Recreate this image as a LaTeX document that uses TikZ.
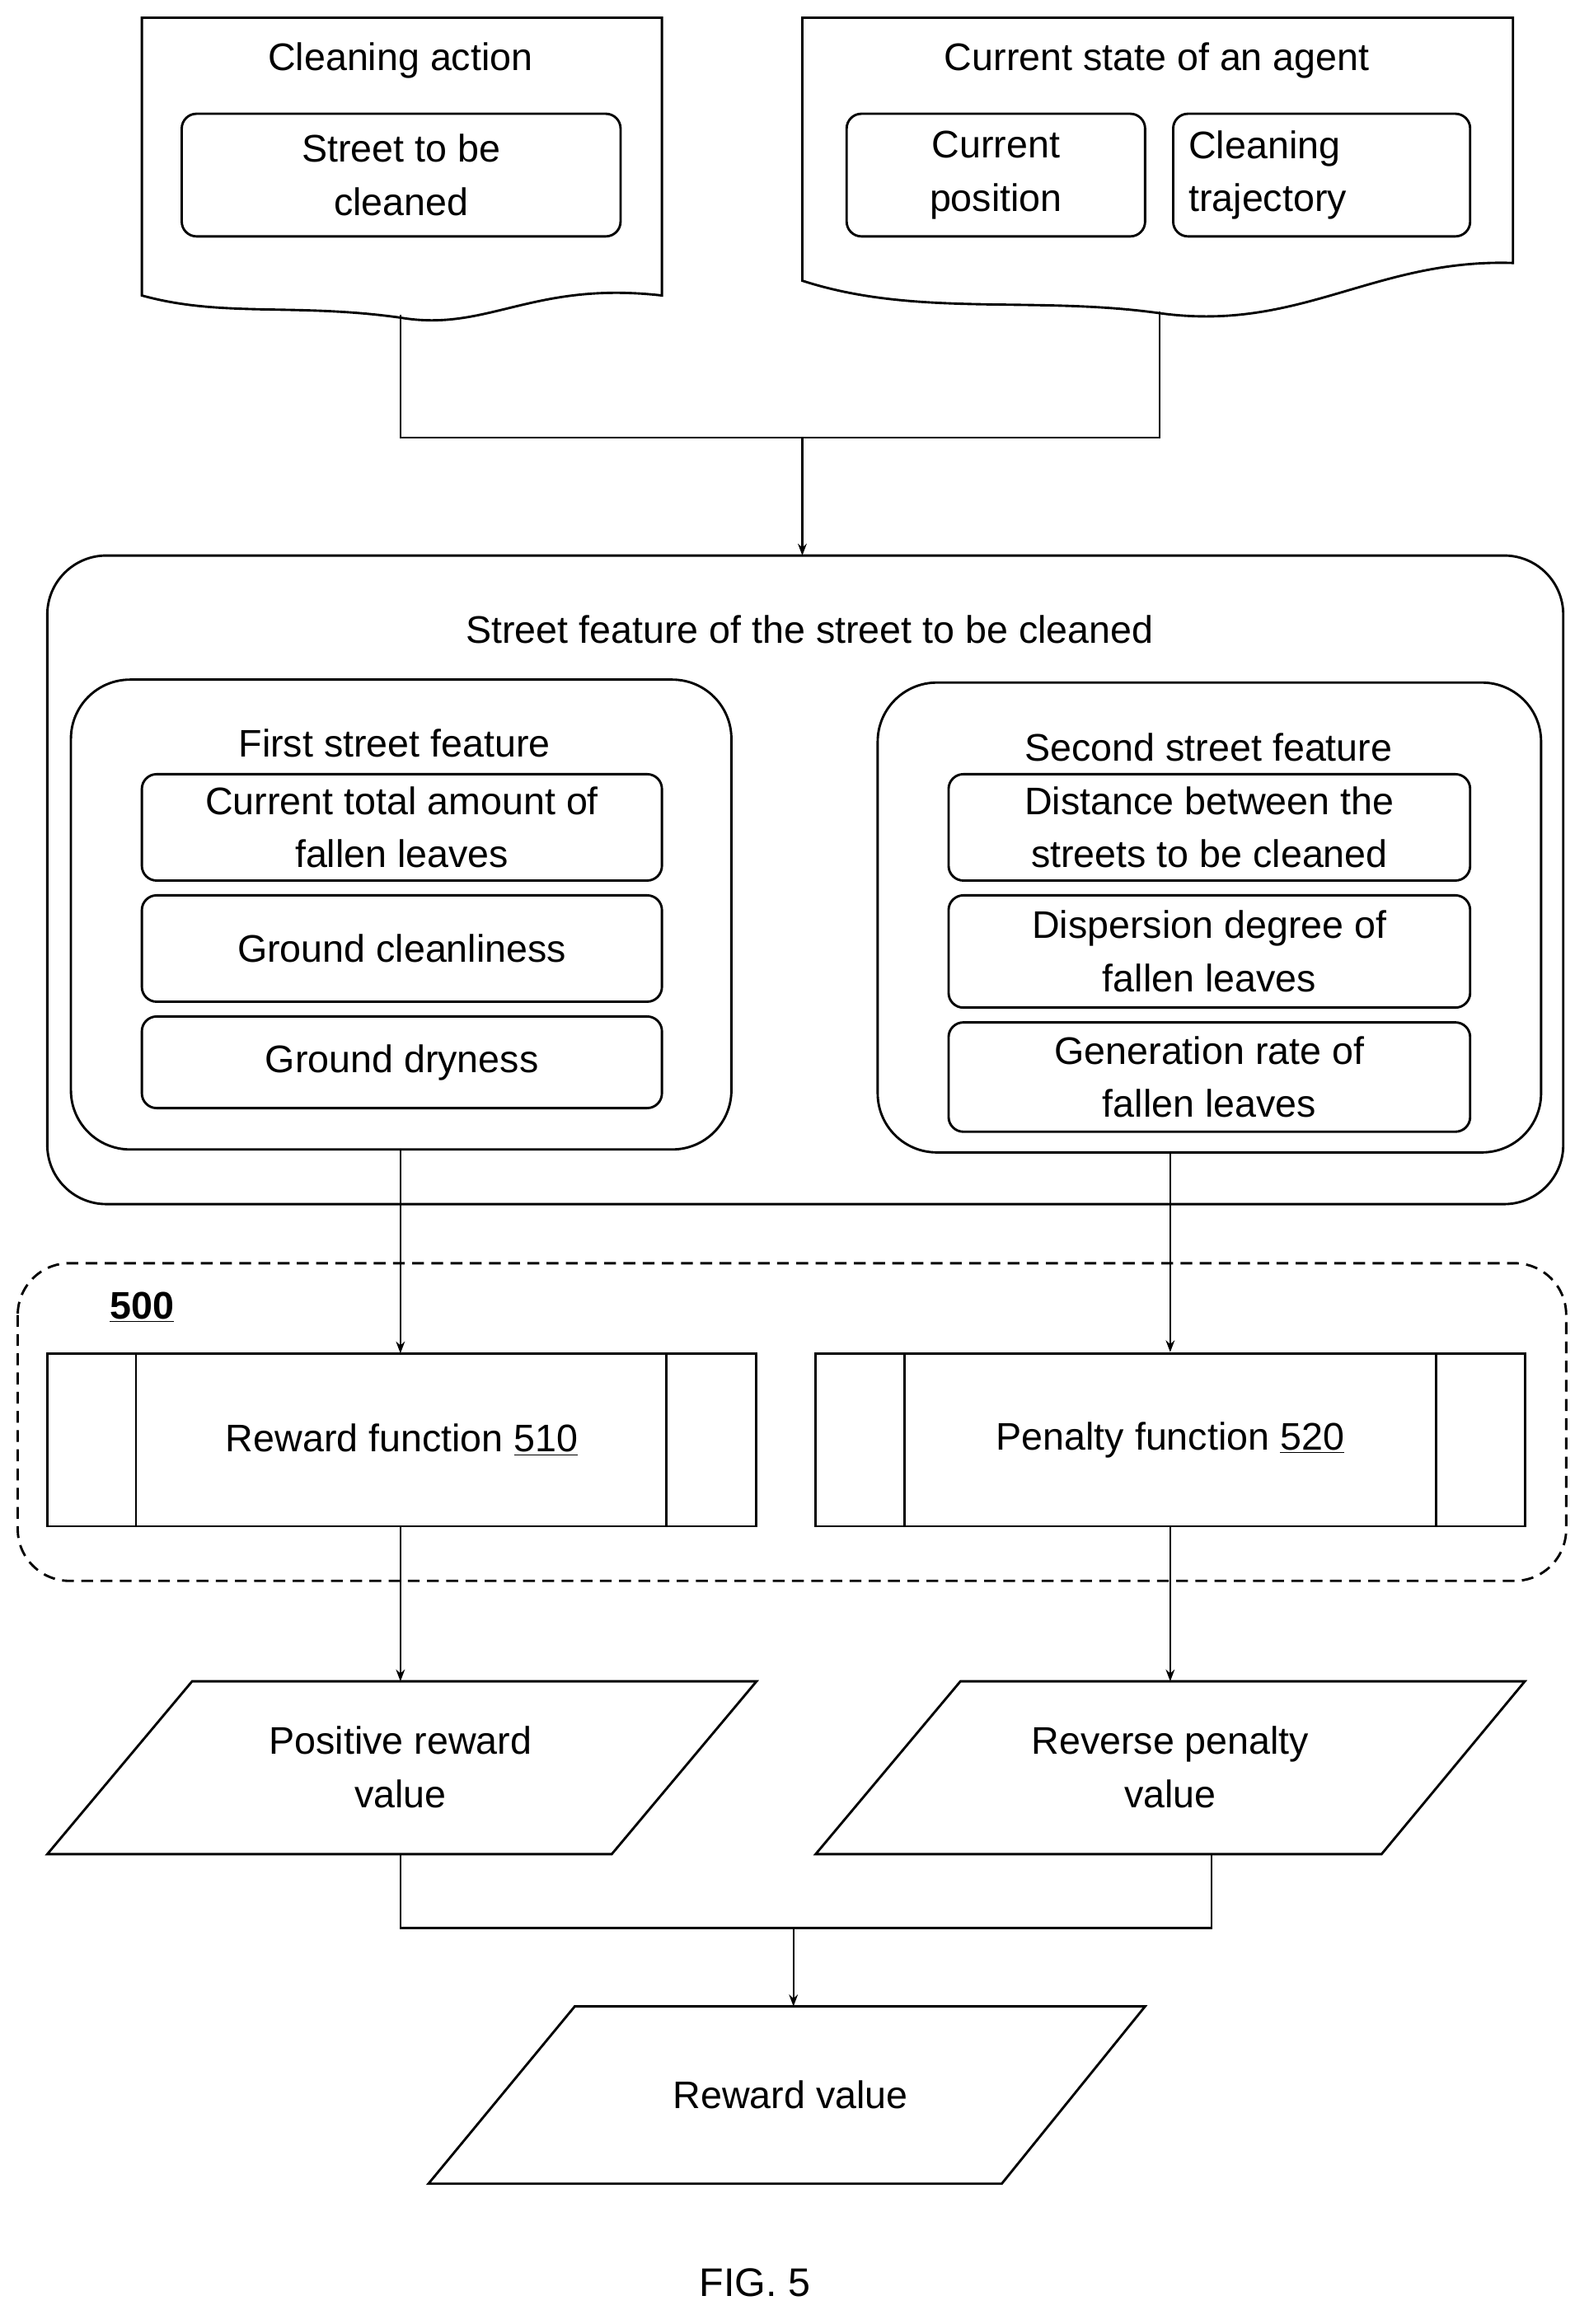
\documentclass[tikz,border=0pt]{standalone}
\usepackage{fontspec}
\setmainfont{Liberation Sans}
\usetikzlibrary{arrows.meta}
\begin{document}
\begin{tikzpicture}[x=1pt,y=-1pt,
  every node/.style={font=\fontsize{26}{36}\selectfont,align=center,inner sep=0pt},
  box/.style={draw,line width=1.6pt,rounded corners=10pt},
  big/.style={draw,line width=1.6pt,rounded corners=40pt},
  ln/.style={draw,line width=1.2pt},
  arr/.style={ln,-{Stealth[length=8pt,width=6pt]}}]
\useasboundingbox (0,0) rectangle (1075,1573);
% documents
\draw[line width=1.6pt] (96,12) -- (448,12) -- (448,200) .. controls (360,190) and (330,225) .. (271,215) .. controls (200,205) and (150,215) .. (96,200) -- cycle;
\node (ca) at (271,41) {Cleaning action};
\node[box,minimum width=297,minimum height=83] (st) at (271.5,118.5) {Street to be\\cleaned};
\draw[line width=1.6pt] (543,12) -- (1024,12) -- (1024,178) .. controls (930,175) and (880,225) .. (785,212) .. controls (700,200) and (620,215) .. (543,190) -- cycle;
\node (cs) at (783,41) {Current state of an agent};
\node[box,minimum width=202,minimum height=83] (cp) at (674,118.5) {Current\\position};
\node[box,minimum width=201,minimum height=83,align=left,text width=180] (ct) at (894.5,118.5) {Cleaning\\trajectory};
\coordinate (d1) at (271,213);
\coordinate (d2) at (785,211);
\coordinate (m) at (543,296);
\draw[ln] (d1) |- (m) -| (d2);
% big box
\node[big,minimum width=1026,minimum height=439] (sf) at (545,595.5) {};
\coordinate (sft) at (543,376);
\node at (548,426) {Street feature of the street to be cleaned};
\draw[arr] (m) -- (sft);
\node[big,minimum width=447,minimum height=318] (f1) at (271.5,619) {};
\node at (267,503) {First street feature};
\node[box,minimum width=352,minimum height=72] at (272,560) {Current total amount of\\fallen leaves};
\node[box,minimum width=352,minimum height=72] at (272,642) {Ground cleanliness};
\node[box,minimum width=352,minimum height=62] at (272,719) {Ground dryness};
\node[big,minimum width=449,minimum height=318] (f2) at (818.5,621) {};
\node at (818,506) {Second street feature};
\node[box,minimum width=353,minimum height=72] at (818.5,560) {Distance between the\\streets to be cleaned};
\node[box,minimum width=353,minimum height=76] at (818.5,644) {Dispersion degree of\\fallen leaves};
\node[box,minimum width=353,minimum height=74] at (818.5,729) {Generation rate of\\fallen leaves};
% dashed
\draw[line width=1.6pt,dash pattern=on 8pt off 5pt,rounded corners=35pt] (12,855) rectangle (1060,1070);
\node[font=\fontsize{26}{30}\selectfont\bfseries] at (96,885) {\underline{500}};
\node[draw,line width=1.6pt,minimum width=480,minimum height=117] (r) at (272,974.5) {Reward function \underline{510}};
\draw[line width=1.6pt] (92,916) -- (92,1033) (451,916) -- (451,1033);
\node[draw,line width=1.6pt,minimum width=480,minimum height=117] (p) at (792,974.5) {Penalty function \underline{520}};
\draw[line width=1.6pt] (612,916) -- (612,1033) (972,916) -- (972,1033);
\coordinate (rt) at (271,916);
\coordinate (rb) at (271,1033);
\draw[arr] (271,778) -- (rt);
\draw[arr] (792,780) -- (p.north);
% outputs
\draw[line width=1.6pt] (130,1138) -- (512,1138) -- (414,1255) -- (32,1255) -- cycle;
\node (pr) at (271,1196) {Positive reward\\value};
\draw[line width=1.6pt] (650,1138) -- (1032,1138) -- (935,1255) -- (552,1255) -- cycle;
\node (rp) at (792,1196) {Reverse penalty\\value};
\draw[arr] (rb) -- (271,1138);
\draw[arr] (p.south) -- (792,1138);
\coordinate (m2) at (537,1305);
\draw[ln] (271,1255) |- (m2) -| (820,1255);
\draw[line width=1.6pt] (389,1358) -- (775,1358) -- (678,1478) -- (290,1478) -- cycle;
\node (rv) at (535,1418) {Reward value};
\draw[arr] (m2) -- (537,1358);
\node[font=\fontsize{27}{30}\selectfont] at (511,1545) {FIG. 5};
\end{tikzpicture}
\end{document}
